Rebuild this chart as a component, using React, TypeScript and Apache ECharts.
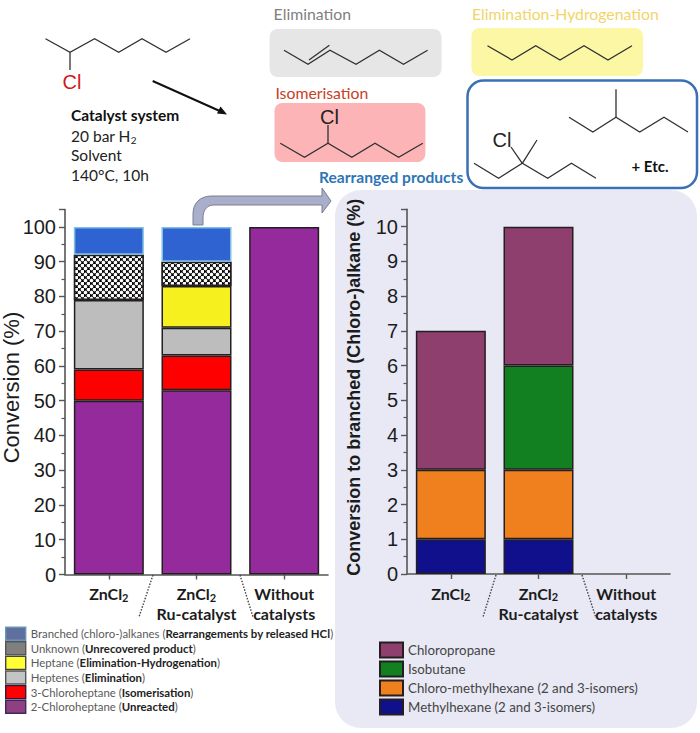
import React, { useEffect, useRef } from "react";
import * as echarts from "echarts";

const catLeft = ["ZnCl2", "ZnCl2\nRu-catalyst", "Without\ncatalysts"];
const catRight = ["ZnCl2", "ZnCl2\nRu-catalyst", "Without\ncatalysts"];

const unreacted = [50, 53, 100];
const isomerisation = [9, 10, null];
const heptenes = [20, 8, null];
const heptane = [null, 12, null];
const unknown = [13, 7, null];
const branched = [8, 10, null];

const methylhexane = [1, 1, null];
const chloroMethylhexane = [2, 2, null];
const isobutane = [null, 3, null];
const chloropropane = [4, 4, null];

const SANS = "Lato";
const ARIAL = "Liberation Sans";

echarts.graphic.registerShape(
  "bigArrow",
  echarts.graphic.extendPath(
    "M193 225 L193 214 C193 203 200 196 212 196 L322 196 L322 188 L331 201 L322 213 L322 205 L214 205 C207 205 203 210 203 218 L203 225 Z",
    {}
  )
);

const line = (pts: number[][], w = 1.3, c = "#303030") => ({
  type: "polyline",
  shape: { points: pts },
  style: { fill: "none", stroke: c, lineWidth: w },
  z: 5,
});
const zig = (xs: number[], y0: number, y1: number, w = 1.3) =>
  line(xs.map((x, i) => [x, i % 2 === 0 ? y0 : y1]), w);
const box = (x0: number, y0: number, x1: number, y1: number, r: number, fill: string, extra: any = {}) => ({
  type: "rect",
  shape: { x: x0, y: y0, width: x1 - x0, height: y1 - y0, r },
  style: { fill, ...extra },
  z: 1,
});
const txt = (x: number, y: number, text: string, font: number, fill: string, extra: any = {}) => ({
  type: "text",
  x,
  y,
  style: { text, fontSize: font, fontFamily: SANS, fill, verticalAlign: "middle", align: "left", ...extra },
  z: 6,
});
const cl = (x: number, y: number, fill = "#222") =>
  txt(x, y, "Cl", 20, fill, { fontFamily: ARIAL, align: "center" });
const dots = (pts: number[][]) => ({
  type: "polyline",
  shape: { points: pts },
  style: { fill: "none", stroke: "#444", lineWidth: 1.4, lineDash: [1.5, 1.5] },
  z: 5,
});

const graphics = [
  { ...box(335, 190, 697, 728, 26, "#e8e9f5"), z: -10 },
  zig([45.5, 70, 94.6, 118.7, 142, 166, 190], 38.7, 52.3),
  line([[70, 52.3], [70, 70]]),
  cl(72, 82, "#d01a1a"),
  line([[152.7, 81], [222, 112]], 2, "#111"),
  { type: "polygon", shape: { points: [[227, 114.5], [217, 113.5], [220.5, 106.5]] }, style: { fill: "#111" }, z: 5 },
  txt(71, 115, "Catalyst system", 15.5, "#111", { fontWeight: "bold" }),
  txt(71, 136, "20 bar H{s|2}", 15.5, "#222", { rich: { s: { fontSize: 10, fontFamily: SANS, fill: "#222", padding: [7, 0, 0, 0] } } }),
  txt(71, 155, "Solvent", 15.5, "#222"),
  txt(71, 175, "140°C, 10h", 15.5, "#222"),

  txt(273.6, 13, "Elimination", 15.8, "#7f7f7f"),
  box(269.6, 29, 441.5, 77, 8, "#e6e6e6"),
  zig([284, 308, 330, 356, 379.4, 403.5, 427.6], 50.3, 64.3),
  line([[309, 60], [329.4, 45.3]]),

  txt(472, 13, "Elimination-Hydrogenation", 15.8, "#f2d568"),
  box(471.4, 28, 643, 76, 8, "#fbf7a4"),
  zig([487.5, 512, 535.7, 560, 584, 608, 632], 45.7, 60),

  txt(275.4, 92, "Isomerisation", 15.8, "#c8401e"),
  box(274.5, 103, 425.4, 162, 8, "#fdb4b6"),
  zig([280.3, 304.5, 328, 351.8, 375, 398.6, 422.8], 143.3, 157.3),
  line([[328, 143.3], [328, 125]]),
  cl(329.5, 117),

  box(467.5, 80.5, 697, 188, 16, "#ffffff", { stroke: "#3b6fb6", lineWidth: 2.5 }),
  zig([569, 592.8, 616, 639.7, 664, 688], 117.3, 132),
  line([[616, 117.3], [616, 89.3]]),
  zig([474, 498.6, 522.3, 547.7, 571.4, 596], 163.3, 178.3),
  line([[522.3, 163.3], [537, 140]]),
  line([[522.3, 163.3], [511, 147]]),
  cl(502, 140),
  txt(650, 166, "+ Etc.", 15, "#111", { fontWeight: "bold", align: "center" }),
  txt(319, 177, "Rearranged products", 15.6, "#2e75b6", { fontWeight: "bold" }),

  {
    type: "bigArrow",
    x: 0,
    y: 0,
    style: { fill: "#a9aecb", stroke: "#7b7f94", lineWidth: 1 },
    z: 4,
  },

  dots([[153, 575], [139, 617]]),
  dots([[240, 575], [253, 617]]),
  dots([[496, 575], [483, 617]]),
  dots([[582, 575], [596, 618]]),
];

const xLabel = {
  interval: 0,
  margin: 9,
  fontFamily: SANS,
  fontWeight: "bold",
  fontSize: 16,
  color: "#1c1c1c",
  lineHeight: 20,
  formatter: (v: string) => v.replace("Cl2", "Cl{s|2}"),
  rich: { s: { fontFamily: SANS, fontWeight: "bold", fontSize: 11, color: "#1c1c1c", padding: [7, 0, 0, 0] } },
};
const axisLine = { show: true, onZero: false, lineStyle: { color: "#555", width: 1.6 } };

const xAxis = (gridIndex: number, data: string[]) => ({
  type: "category",
  gridIndex,
  data,
  axisLine,
  axisTick: { show: true, alignWithLabel: true, length: 5, lineStyle: { color: "#555", width: 1.4 } },
  axisLabel: xLabel,
});
const yAxis = (gridIndex: number, max: number, interval: number, name: string, nameSize: number, gap: number, bold: boolean) => ({
  type: "value",
  gridIndex,
  min: 0,
  max,
  interval,
  name,
  nameLocation: "middle",
  nameGap: gap,
  nameMoveOverlap: false,
  nameTextStyle: {
    fontFamily: ARIAL,
    fontSize: nameSize,
    color: "#1c1c1c",
    fontWeight: bold ? "bold" : "normal",
    padding: [0, 0, 0, 9],
  },
  splitLine: { show: false },
  axisLine,
  axisTick: { show: true, length: 6, lineStyle: { color: "#555", width: 1.4 } },
  minorTick: { show: true, splitNumber: 2, length: 3.5, lineStyle: { color: "#555", width: 1.2 } },
  axisLabel: {
    fontFamily: ARIAL,
    fontSize: 20,
    color: "#1c1c1c",
    margin: 9,
    showMaxLabel: false,
    formatter: (v: number) => (v > (max === 105 ? 100 : 10) ? "" : String(v)),
  },
});

const bar = (name: string, data: (number | null)[], idx: number, color: string, stack: string, extra: any = {}) => ({
  type: "bar",
  name,
  data,
  xAxisIndex: idx,
  yAxisIndex: idx,
  stack,
  barWidth: 70,
  itemStyle: { color, borderColor: "#231f20", borderWidth: 1.5, ...extra },
});

const nameBranched = "Branched (chloro-)alkanes (Rearrangements by released HCl)";
const nameUnknown = "Unknown (Unrecovered product)";
const nameHeptane = "Heptane (Elimination-Hydrogenation)";
const nameHeptenes = "Heptenes (Elimination)";
const name3 = "3-Chloroheptane (Isomerisation)";
const name2 = "2-Chloroheptane (Unreacted)";
const nameCP = "Chloropropane";
const nameIB = "Isobutane";
const nameCM = "Chloro-methylhexane (2 and 3-isomers)";
const nameMH = "Methylhexane (2 and 3-isomers)";

const option: any = {
  animation: false,
  backgroundColor: "#ffffff",
  grid: [
    { left: 65, width: 263, top: 209.6, height: 364.9, outerBoundsMode: "none" },
    { left: 407, width: 263, top: 209.3, height: 364.7, outerBoundsMode: "none" },
  ],
  xAxis: [xAxis(0, catLeft), xAxis(1, catRight)],
  yAxis: [
    yAxis(0, 105, 10, "Conversion (%)", 22, 43, false),
    yAxis(1, 10.5, 1, "Conversion to branched (Chloro-)alkane (%)", 18, 44, true),
  ],
  legend: [
    {
      orient: "vertical",
      left: 5,
      top: 626.5,
      padding: 0,
      itemWidth: 20,
      itemHeight: 13,
      itemGap: 0.2,
      selectedMode: false,
      icon: "rect",
      data: [
        { name: nameBranched, itemStyle: { color: "#5f6f9e", borderColor: "#6c94b8", borderWidth: 1.4 } },
        { name: nameUnknown, itemStyle: { color: "#808080", borderColor: "#555", borderWidth: 1.4, decal: "none" } },
        { name: nameHeptane, itemStyle: { color: "#ffff33", borderColor: "#444", borderWidth: 1.4 } },
        { name: nameHeptenes, itemStyle: { color: "#c4c4c4", borderColor: "#555", borderWidth: 1.4 } },
        { name: name3, itemStyle: { color: "#ff0000", borderColor: "#33183a", borderWidth: 1.4 } },
        { name: name2, itemStyle: { color: "#8f4080", borderColor: "#3d2a5a", borderWidth: 1.4 } },
      ],
      formatter: (n: string) => {
        const m = n.match(/^(.*) \(([^()]*)\)$/);
        return m ? `${m[1]} ({b|${m[2]}})` : n;
      },
      textStyle: {
        fontFamily: SANS,
        fontSize: 11.4,
        lineHeight: 13,
        color: "#5a5a5a",
        rich: { b: { fontFamily: SANS, fontSize: 11.4, lineHeight: 13, fontWeight: "bold", color: "#222" } },
      },
    },
    {
      orient: "vertical",
      left: 379,
      top: 641.5,
      padding: 0,
      itemWidth: 23,
      itemHeight: 15,
      itemGap: 2,
      selectedMode: false,
      icon: "rect",
      data: [nameCP, nameIB, nameCM, nameMH],
      formatter: (n: string) => n,
      textStyle: { fontFamily: SANS, fontSize: 13.3, lineHeight: 15, color: "#444" },
    },
  ],
  series: [
    bar(name2, unreacted, 0, "#952a9c", "a"),
    bar(name3, isomerisation, 0, "#ff0000", "a"),
    bar(nameHeptenes, heptenes, 0, "#bdbdbd", "a"),
    bar(nameHeptane, heptane, 0, "#f6f01e", "a"),
    bar(nameUnknown, unknown, 0, "#000000", "a", {
      decal: {
        symbol: "circle",
        symbolSize: 1.25,
        color: "#ffffff",
        backgroundColor: "#0a0a0a",
        dashArrayX: [[3, 3], [0, 3, 3, 0]],
        dashArrayY: [3, 0],
        rotation: 0,
      },
    }),
    bar(nameBranched, branched, 0, "#3063d2", "a", { borderColor: "#7fbfe0" }),
    bar(nameMH, methylhexane, 1, "#10108c", "b"),
    bar(nameCM, chloroMethylhexane, 1, "#f07f1e", "b"),
    bar(nameIB, isobutane, 1, "#128020", "b"),
    bar(nameCP, chloropropane, 1, "#8f3f6e", "b"),
  ],
  graphic: { elements: graphics },
};

export default function App() {
  const ref = useRef<HTMLDivElement>(null);
  useEffect(() => {
    const chart = echarts.init(ref.current!, undefined, { renderer: "svg" });
    chart.setOption(option);
    return () => chart.dispose();
  }, []);
  return <div ref={ref} style={{ position: "absolute", left: 0, top: 0, width: 700, height: 733 }} />;
}
